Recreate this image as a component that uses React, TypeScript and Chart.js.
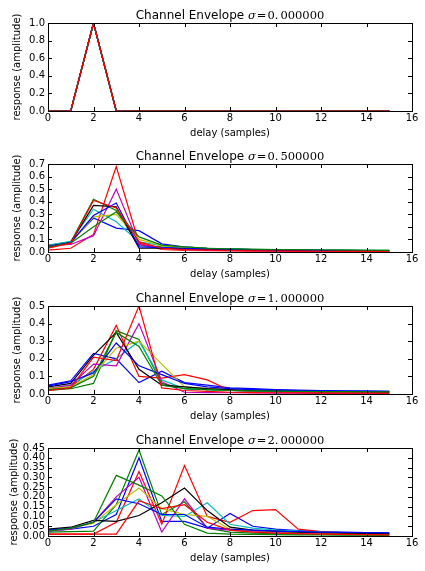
import React, { useEffect, useRef } from "react";
import { Chart, registerables } from "chart.js";

Chart.register(...registerables);

// ---------- data ----------
const delays = [0, 1, 2, 3, 4, 5, 6, 7, 8, 9, 10, 11, 12, 13, 14, 15];
const sigmas = [0, 0.5, 1, 2];
const seriesColors = ["#0000ff", "#008000", "#ff0000", "#00bfbf", "#bf00bf", "#bfbf00", "#000000", "#0000ff", "#008000", "#ff0000"];
const yMaxes = [1.0, 0.7, 0.5, 0.45];
const ySteps = [0.2, 0.1, 0.1, 0.05];
const yDecimals = [1, 1, 1, 2];

const env0 = [
  [0, 0, 1, 0, 0, 0, 0, 0, 0, 0, 0, 0, 0, 0, 0, 0],
  [0, 0, 1, 0, 0, 0, 0, 0, 0, 0, 0, 0, 0, 0, 0, 0],
  [0, 0, 1, 0, 0, 0, 0, 0, 0, 0, 0, 0, 0, 0, 0, 0],
  [0, 0, 1, 0, 0, 0, 0, 0, 0, 0, 0, 0, 0, 0, 0, 0],
  [0, 0, 1, 0, 0, 0, 0, 0, 0, 0, 0, 0, 0, 0, 0, 0],
  [0, 0, 1, 0, 0, 0, 0, 0, 0, 0, 0, 0, 0, 0, 0, 0],
  [0, 0, 1, 0, 0, 0, 0, 0, 0, 0, 0, 0, 0, 0, 0, 0],
  [0, 0, 1, 0, 0, 0, 0, 0, 0, 0, 0, 0, 0, 0, 0, 0],
  [0, 0, 1, 0, 0, 0, 0, 0, 0, 0, 0, 0, 0, 0, 0, 0],
  [0, 0, 1, 0, 0, 0, 0, 0, 0, 0, 0, 0, 0, 0, 0, 0],
];

const env05 = [
  [0.05, 0.08, 0.27, 0.19, 0.17, 0.065, 0.04, 0.03, 0.025, 0.02, 0.018, 0.016, 0.014, 0.013, 0.012, 0.011],
  [0.05, 0.08, 0.42, 0.33, 0.05, 0.04, 0.035, 0.03, 0.025, 0.022, 0.02, 0.018, 0.016, 0.015, 0.014, 0.013],
  [0.015, 0.03, 0.14, 0.68, 0.07, 0.02, 0.012, 0.01, 0.008, 0.007, 0.006, 0.005, 0.005, 0.004, 0.004, 0.003],
  [0.055, 0.085, 0.34, 0.24, 0.08, 0.05, 0.035, 0.028, 0.022, 0.02, 0.018, 0.016, 0.015, 0.014, 0.013, 0.012],
  [0.05, 0.06, 0.13, 0.5, 0.06, 0.03, 0.02, 0.015, 0.012, 0.01, 0.009, 0.008, 0.007, 0.007, 0.006, 0.006],
  [0.04, 0.07, 0.28, 0.3, 0.1, 0.05, 0.035, 0.025, 0.02, 0.018, 0.016, 0.014, 0.013, 0.012, 0.011, 0.01],
  [0.04, 0.075, 0.37, 0.36, 0.03, 0.03, 0.025, 0.02, 0.018, 0.016, 0.014, 0.013, 0.012, 0.011, 0.01, 0.009],
  [0.045, 0.075, 0.29, 0.39, 0.04, 0.035, 0.03, 0.025, 0.02, 0.018, 0.016, 0.014, 0.013, 0.012, 0.011, 0.01],
  [0.04, 0.07, 0.2, 0.32, 0.12, 0.055, 0.04, 0.03, 0.025, 0.022, 0.02, 0.018, 0.016, 0.015, 0.014, 0.013],
  [0.03, 0.07, 0.41, 0.35, 0.08, 0.03, 0.02, 0.015, 0.012, 0.01, 0.008, 0.007, 0.006, 0.005, 0.005, 0.004],
];

const env1 = [
  [0.05, 0.075, 0.23, 0.2, 0.065, 0.13, 0.065, 0.05, 0.035, 0.03, 0.025, 0.022, 0.02, 0.018, 0.016, 0.015],
  [0.02, 0.03, 0.06, 0.36, 0.31, 0.06, 0.03, 0.025, 0.02, 0.018, 0.016, 0.015, 0.014, 0.013, 0.012, 0.011],
  [0.02, 0.04, 0.14, 0.39, 0.1, 0.09, 0.11, 0.08, 0.02, 0.015, 0.012, 0.01, 0.008, 0.007, 0.006, 0.005],
  [0.03, 0.05, 0.13, 0.2, 0.3, 0.08, 0.03, 0.025, 0.02, 0.017, 0.015, 0.013, 0.012, 0.011, 0.01, 0.01],
  [0.03, 0.05, 0.17, 0.16, 0.4, 0.07, 0.01, 0.008, 0.007, 0.006, 0.005, 0.005, 0.004, 0.004, 0.004, 0.003],
  [0.03, 0.04, 0.11, 0.26, 0.3, 0.17, 0.04, 0.03, 0.025, 0.02, 0.018, 0.016, 0.014, 0.013, 0.012, 0.011],
  [0.04, 0.06, 0.22, 0.35, 0.14, 0.05, 0.04, 0.03, 0.025, 0.02, 0.018, 0.016, 0.014, 0.013, 0.012, 0.011],
  [0.045, 0.07, 0.12, 0.29, 0.16, 0.11, 0.06, 0.04, 0.03, 0.025, 0.022, 0.02, 0.018, 0.017, 0.016, 0.015],
  [0.025, 0.035, 0.1, 0.35, 0.27, 0.05, 0.03, 0.025, 0.02, 0.018, 0.016, 0.015, 0.014, 0.013, 0.012, 0.012],
  [0.02, 0.035, 0.21, 0.19, 0.5, 0.035, 0.02, 0.015, 0.01, 0.008, 0.007, 0.006, 0.005, 0.005, 0.005, 0.004],
];

const env2 = [
  [0.03, 0.035, 0.05, 0.11, 0.4, 0.075, 0.075, 0.04, 0.115, 0.05, 0.035, 0.028, 0.022, 0.02, 0.018, 0.016],
  [0.02, 0.022, 0.025, 0.16, 0.44, 0.11, 0.175, 0.04, 0.02, 0.015, 0.012, 0.01, 0.008, 0.007, 0.006, 0.006],
  [0.01, 0.01, 0.01, 0.07, 0.33, 0.06, 0.36, 0.1, 0.07, 0.13, 0.135, 0.035, 0.022, 0.016, 0.013, 0.011],
  [0.025, 0.035, 0.07, 0.13, 0.19, 0.105, 0.1, 0.17, 0.06, 0.04, 0.03, 0.025, 0.02, 0.018, 0.016, 0.014],
  [0.025, 0.035, 0.07, 0.2, 0.3, 0.02, 0.19, 0.04, 0.03, 0.025, 0.02, 0.016, 0.013, 0.011, 0.01, 0.009],
  [0.03, 0.04, 0.065, 0.16, 0.245, 0.14, 0.11, 0.1, 0.035, 0.028, 0.022, 0.018, 0.015, 0.013, 0.012, 0.011],
  [0.035, 0.045, 0.08, 0.075, 0.105, 0.17, 0.245, 0.13, 0.045, 0.03, 0.025, 0.02, 0.017, 0.015, 0.013, 0.012],
  [0.03, 0.04, 0.07, 0.19, 0.165, 0.11, 0.11, 0.045, 0.035, 0.03, 0.025, 0.022, 0.02, 0.018, 0.017, 0.016],
  [0.025, 0.04, 0.07, 0.31, 0.26, 0.205, 0.06, 0.015, 0.01, 0.008, 0.007, 0.006, 0.005, 0.004, 0.004, 0.003],
  [0.01, 0.01, 0.01, 0.01, 0.18, 0.14, 0.16, 0.07, 0.03, 0.02, 0.015, 0.012, 0.01, 0.008, 0.007, 0.006],
];

const envelopes = [env0, env05, env1, env2];

// ---------- layout ----------
const PLOT_TOPS = [23, 164, 306, 448];
const Y_TITLE_PAD = [11, 11, 11, 8];
const PAD_TOP = 23;
const PLOT_H = 88;
const XAXIS_H = 30;
const CANVAS_W = 425;
const CANVAS_H = PAD_TOP + PLOT_H + XAXIS_H;

const SANS = '"DejaVu Sans", sans-serif';
const SERIF = '"DejaVu Serif", serif';

const mplPlugin = {
  id: "mpl",
  afterDraw(chart: any, _args: any, opts: any) {
    const { ctx, chartArea } = chart;
    const { left, right, top, bottom } = chartArea;
    ctx.save();
    // frame
    ctx.strokeStyle = "#000";
    ctx.lineWidth = 1;
    ctx.strokeRect(Math.round(left) + 0.5, Math.round(top) + 0.5, Math.round(right - left), Math.round(bottom - top));
    // inward ticks on all four sides
    const TL = 4;
    const xs = chart.scales.x;
    const ys = chart.scales.y;
    ctx.beginPath();
    for (const t of xs.ticks) {
      const px = Math.round(xs.getPixelForValue(t.value)) + 0.5;
      ctx.moveTo(px, bottom);
      ctx.lineTo(px, bottom - TL);
      ctx.moveTo(px, top);
      ctx.lineTo(px, top + TL);
    }
    for (const t of ys.ticks) {
      const py = Math.round(ys.getPixelForValue(t.value)) + 0.5;
      ctx.moveTo(left, py);
      ctx.lineTo(left + TL, py);
      ctx.moveTo(right, py);
      ctx.lineTo(right - TL, py);
    }
    ctx.stroke();

    // title with mixed fonts
    const sig: string = opts.sigmaText;
    const dot = sig.indexOf(".");
    const parts = [
      { t: "Channel Envelope ", f: `12px ${SANS}`, gap: 0 },
      { t: "\u03c3", f: `italic 11.5px ${SERIF}`, gap: 0 },
      { t: "=", f: `11.5px ${SERIF}`, gap: 1 },
      { t: sig.slice(0, dot + 1), f: `11.5px ${SERIF}`, gap: 1 },
      { t: sig.slice(dot + 1), f: `11.5px ${SERIF}`, gap: 2 },
    ];
    let total = 0;
    const widths: number[] = [];
    parts.forEach((p, i) => {
      ctx.font = p.f;
      const w = ctx.measureText(p.t).width;
      widths.push(w);
      total += w + (i > 0 ? p.gap : 0);
    });
    let x = (left + right) / 2 - total / 2;
    const y = top - 4.5;
    ctx.fillStyle = "#000";
    ctx.textBaseline = "alphabetic";
    ctx.textAlign = "left";
    parts.forEach((p, i) => {
      if (i > 0) x += p.gap;
      ctx.font = p.f;
      ctx.fillText(p.t, x, y);
      x += widths[i];
    });
    ctx.restore();
  },
};

function Panel({ index }: { index: number }) {
  const ref = useRef<HTMLCanvasElement | null>(null);
  useEffect(() => {
    if (!ref.current) return;
    const series = envelopes[index];
    const n = series.length;
    const datasets = series.map((vals, i) => ({
      data: delays.map((d, j) => ({ x: d, y: vals[j] })),
      borderColor: seriesColors[i],
      backgroundColor: seriesColors[i],
      borderWidth: 1.2,
      pointRadius: 0,
      tension: 0,
      fill: false,
      order: n - i,
    }));
    const dec = yDecimals[index];
    const tickFont = { family: SANS, size: 10 };
    const chart = new Chart(ref.current, {
      type: "line",
      data: { datasets },
      plugins: [mplPlugin],
      options: {
        animation: false,
        responsive: false,
        devicePixelRatio: 1,
        layout: { padding: { top: PAD_TOP, right: 13, left: 0, bottom: 0 } },
        plugins: {
          legend: { display: false },
          tooltip: { enabled: false },
          mpl: { sigmaText: sigmas[index].toFixed(6) },
        } as any,
        scales: {
          x: {
            type: "linear",
            min: 0,
            max: 16,
            ticks: { stepSize: 2, font: tickFont, color: "#000", padding: 1.5, maxRotation: 0, autoSkip: false },
            grid: { display: false, drawTicks: false },
            border: { display: false },
            title: { display: true, text: "delay (samples)", font: tickFont, color: "#000", padding: { top: 0, bottom: 2 } },
            afterFit: (s: any) => {
              s.height = XAXIS_H;
            },
          },
          y: {
            type: "linear",
            min: 0,
            max: yMaxes[index],
            ticks: {
              stepSize: ySteps[index],
              font: tickFont,
              color: "#000",
              padding: 3,
              autoSkip: false,
              callback: (v: any) => Number(v).toFixed(dec),
            },
            grid: { display: false, drawTicks: false },
            border: { display: false },
            title: {
              display: true,
              text: "response (amplitude)",
              font: tickFont,
              color: "#000",
              padding: { top: Y_TITLE_PAD[index], bottom: 0 },
            },
            afterFit: (s: any) => {
              s.width = 48;
            },
          },
        },
      } as any,
    });
    return () => chart.destroy();
  }, [index]);
  return (
    <canvas
      ref={ref}
      width={CANVAS_W}
      height={CANVAS_H}
      style={{ position: "absolute", left: 0, top: PLOT_TOPS[index] - PAD_TOP, width: CANVAS_W, height: CANVAS_H }}
    />
  );
}

export default function App() {
  return (
    <div style={{ position: "fixed", left: 0, top: 0, width: 425, height: 571, background: "#fff", overflow: "hidden" }}>
      {sigmas.map((_, i) => (
        <Panel key={i} index={i} />
      ))}
    </div>
  );
}
